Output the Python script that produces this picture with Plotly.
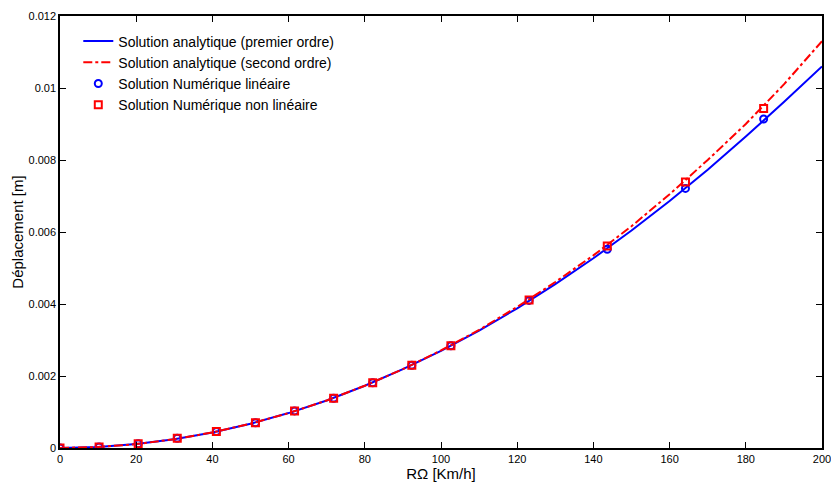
import plotly.graph_objects as go

# Analytic curves
x_curve = [0, 10, 20, 30, 40, 50, 60, 70, 80, 90, 100, 110, 120, 130, 140, 150, 160, 170, 180, 190, 200]
y_first = [0, 0.000027, 0.000108, 0.000243, 0.000432, 0.000675, 0.00097, 0.00132, 0.00173, 0.00219,
           0.0027, 0.00326, 0.00388, 0.00455, 0.00527, 0.00604, 0.00686, 0.00773, 0.00865, 0.00961, 0.0106]
y_second = [0, 0.000027, 0.000108, 0.000243, 0.000432, 0.000675, 0.00097, 0.00132, 0.00173, 0.00219,
            0.00271, 0.00328, 0.00392, 0.00461, 0.00535, 0.00616, 0.00705, 0.00800, 0.00900, 0.01010, 0.0113]

# Numerical points
x_pts = [0, 10.26, 20.52, 30.78, 41.04, 51.3, 61.56, 71.82, 82.08, 92.34, 102.6, 123.12, 143.64, 164.16, 184.68]
y_lin = [0, 0.00003, 0.00012, 0.00027, 0.00046, 0.0007, 0.00103, 0.00138, 0.00181, 0.0023, 0.00284,
         0.0041, 0.00552, 0.00721, 0.00914]
y_nonlin = [0, 0.00003, 0.00012, 0.00027, 0.00046, 0.0007, 0.00103, 0.00138, 0.00181, 0.0023, 0.00284,
            0.00411, 0.00561, 0.00739, 0.00943]

x_ticks = [0, 20, 40, 60, 80, 100, 120, 140, 160, 180, 200]
y_ticks = [0, 0.002, 0.004, 0.006, 0.008, 0.01, 0.012]
y_ticktext = ["0", "0.002", "0.004", "0.006", "0.008", "0.01", "0.012"]

fig = go.Figure()
fig.add_trace(go.Scatter(x=x_curve, y=y_first, mode="lines", name="Solution analytique (premier ordre)",
                         line=dict(color="#0000ff", width=2)))
fig.add_trace(go.Scatter(x=x_curve, y=y_second, mode="lines", name="Solution analytique (second ordre)",
                         line=dict(color="#ff0000", width=2, dash="dashdot")))
fig.add_trace(go.Scatter(x=x_pts, y=y_lin, mode="markers", name="Solution Numérique linéaire",
                         marker=dict(symbol="circle-open", size=7, color="#0000ff", line=dict(width=2))))
fig.add_trace(go.Scatter(x=x_pts, y=y_nonlin, mode="markers", name="Solution Numérique non linéaire",
                         marker=dict(symbol="square-open", size=7, color="#ff0000", line=dict(width=2))))

axis_common = dict(showgrid=False, zeroline=False, showline=True, linecolor="black", linewidth=1.5,
                   mirror="ticks", ticks="inside", ticklen=6, tickcolor="black", automargin=False,
                   ticklabeloverflow="allow",
                   tickfont=dict(family="Liberation Sans, Arial", size=11, color="black"))
fig.update_xaxes(range=[0, 200], tickvals=x_ticks, title=dict(text="RΩ [Km/h]", standoff=0,
                 font=dict(family="Liberation Sans, Arial", size=15, color="black")), **axis_common)
fig.update_yaxes(range=[0, 0.012], tickvals=y_ticks, ticktext=y_ticktext,
                 title=dict(text="Déplacement [m]", standoff=1,
                            font=dict(family="Liberation Sans, Arial", size=15, color="black")), **axis_common)

fig.update_layout(
    width=831, height=484,
    margin=dict(l=60, r=9, t=16, b=36),
    plot_bgcolor="white", paper_bgcolor="white",
    font=dict(family="Liberation Sans, Arial", color="black"),
    legend=dict(x=0.024, y=0.978, xanchor="left", yanchor="top", bgcolor="rgba(255,255,255,0)",
                font=dict(size=14, color="black"), tracegroupgap=0, itemwidth=30),
    showlegend=True,
)

# remove the page's default body margin so the figure fills the window exactly
fig.write_html("out.html", config={"displayModeBar": False},
               post_script="document.body.style.margin='0';document.body.style.overflow='hidden';")
